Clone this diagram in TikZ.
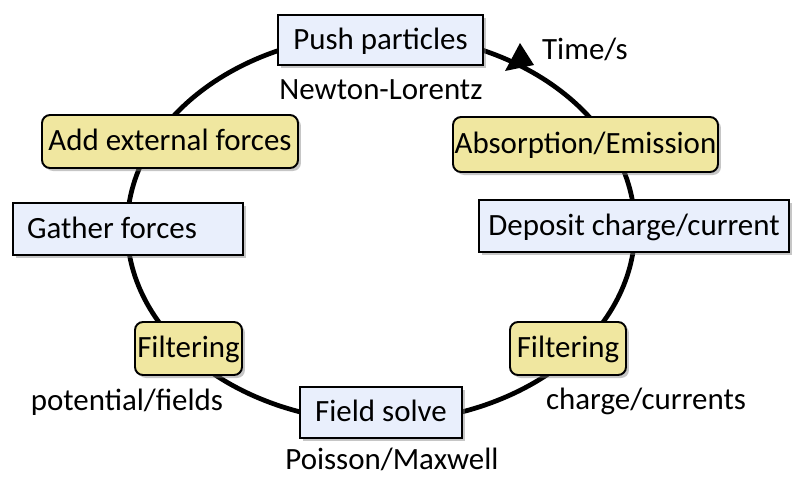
\documentclass[tikz,border=0pt]{standalone}
\usepackage{fontspec}
\setmainfont{Carlito}
\usetikzlibrary{shadows}
\definecolor{boxblue}{HTML}{E9EFFC}
\definecolor{boxyellow}{HTML}{F0E7A0}
\begin{document}
\begin{tikzpicture}[x=0.02cm,y=-0.02cm,
  every node/.style={font=\fontsize{17.6}{21}\selectfont, text height=13pt, text depth=2.6pt, inner sep=0pt},
  stepblue/.style={draw=black, line width=1.1pt, fill=boxblue,
     drop shadow={shadow xshift=0.06cm, shadow yshift=-0.06cm, opacity=0.45}},
  stepyellow/.style={draw=black, line width=1.1pt, fill=boxyellow, rounded corners=0.16cm,
     drop shadow={shadow xshift=0.06cm, shadow yshift=-0.06cm, opacity=0.45}},
  cyc/.style={line width=2.7pt, black},
  lbl/.style={}
]
\useasboundingbox (0,0) rectangle (795,478);
\coordinate (c) at (381,228);
\draw[cyc] (c) ellipse [x radius=5.08cm, y radius=3.88cm];
\coordinate (t1) at (520,43);
\coordinate (t2) at (505,71);
\coordinate (t3) at (534,65);
\fill[black] (t1) -- (t2) -- (t3) -- cycle;

\node[stepblue, minimum width=4.10cm, minimum height=1.00cm] (push) at (380.5,40) {Push particles};
\node[stepyellow, minimum width=5.30cm, minimum height=1.10cm] (absorb) at (585.5,144.5) {Absorption/Emission};
\node[stepblue, minimum width=6.20cm, minimum height=1.04cm] (deposit) at (634,226) {Deposit charge/current};
\node[stepyellow, minimum width=2.32cm, minimum height=1.06cm] (filtR) at (568,348.5) {Filtering};
\node[stepblue, minimum width=3.24cm, minimum height=1.02cm] (field) at (381,412.5) {Field solve};
\node[stepyellow, minimum width=2.14cm, minimum height=1.06cm] (filtL) at (188.5,348.5) {Filtering};
\node[stepblue, text width=4.04cm, inner xsep=0.28cm, align=flush left, minimum height=1.04cm] (gather) at (128,229) {Gather forces};
\node[stepyellow, minimum width=5.12cm, minimum height=1.06cm] (addext) at (170,141.5) {Add external forces};

\node[lbl] (newton) at (381,90) {Newton-Lorentz};
\node[lbl] (time) at (585,50) {Time/s};
\node[lbl] (potf) at (127,401) {potential/fields};
\node[lbl] (chc) at (646,400) {charge/currents};
\node[lbl, text depth=0pt, anchor=base] (poisson) at (392,469) {Poisson/Maxwell};
\end{tikzpicture}
\end{document}
